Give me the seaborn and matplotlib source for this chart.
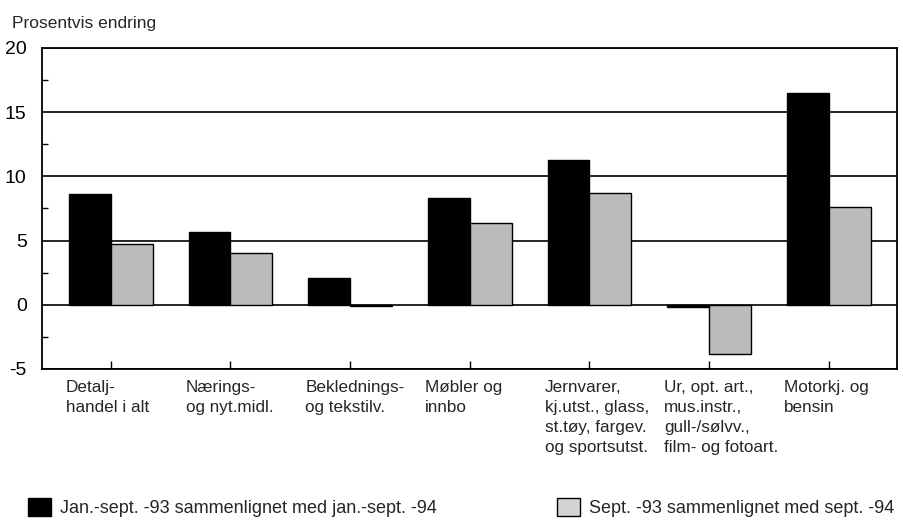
import matplotlib
matplotlib.use("Agg")
import matplotlib.pyplot as plt
import pandas as pd
import seaborn as sns
from matplotlib import font_manager
from matplotlib.patches import Patch
from matplotlib.ticker import MultipleLocator

categories = [
    "Detalj-\nhandel i alt",
    "Nærings-\nog nyt.midl.",
    "Beklednings-\nog tekstilv.",
    "Møbler og\ninnbo",
    "Jernvarer,\nkj.utst., glass,\nst.tøy, fargev.\nog sportsutst.",
    "Ur, opt. art.,\nmus.instr.,\ngull-/sølvv.,\nfilm- og fotoart.",
    "Motorkj. og\nbensin",
]
series_names = [
    "Jan.-sept. -93 sammenlignet med jan.-sept. -94",
    "Sept. -93 sammenlignet med sept. -94",
]
jan_sept = [8.6, 5.7, 2.1, 8.3, 11.3, -0.2, 16.5]
sept = [4.7, 4.0, -0.1, 6.4, 8.7, -3.8, 7.6]

df = pd.DataFrame(
    {
        "kategori": categories * 2,
        "serie": [series_names[0]] * len(categories) + [series_names[1]] * len(categories),
        "endring": jan_sept + sept,
    }
)

installed = {f.name for f in font_manager.fontManager.ttflist}
narrow = "Liberation Sans Narrow" in installed

sns.set_theme(style="white")
plt.rcParams["font.family"] = ["Liberation Sans Narrow" if narrow else "Liberation Sans", "DejaVu Sans"]
plt.rcParams["axes.unicode_minus"] = False

fig = plt.figure(figsize=(9.04, 5.22), dpi=100)
ax = fig.add_axes([42 / 904, 1 - 369 / 522, (897 - 42) / 904, (369 - 48) / 522])

sns.barplot(
    data=df,
    x="kategori",
    y="endring",
    hue="serie",
    palette=["black", "#bcbcbc"],
    width=0.7,
    saturation=1,
    edgecolor="black",
    linewidth=1.0,
    legend=False,
    ax=ax,
)

ax.set_ylim(-5, 20)
ax.set_xlim(-0.575, 6.57)
ax.set_yticks([-5, 0, 5, 10, 15, 20])
ax.yaxis.set_minor_locator(MultipleLocator(2.5))
ax.tick_params(axis="y", which="major", length=0, pad=11, labelsize=14, colors="black")
ax.tick_params(axis="y", which="minor", left=True, direction="in", length=4, width=1, color="black")
ax.tick_params(axis="x", which="major", bottom=True, direction="in", length=6, width=1,
               color="black", labelbottom=False)
ax.set_xlabel("")
ax.set_ylabel("")
ax.grid(axis="y", which="major", color="black", linewidth=1.2)
ax.set_axisbelow(True)
for side in ["left", "right", "bottom", "top"]:
    ax.spines[side].set_visible(True)
    ax.spines[side].set_color("black")
    ax.spines[side].set_linewidth(1.3)

for i, label in enumerate(categories):
    ax.annotate(
        label,
        xy=(i - 0.375, 0),
        xycoords=("data", "axes fraction"),
        xytext=(0, -8),
        textcoords="offset points",
        ha="left",
        va="top",
        fontsize=12.3,
        linespacing=1.4,
    )

fig.text(12 / 904, 1 - 28 / 522, "Prosentvis endring", fontsize=12.5, va="baseline", ha="left")

leg_kw = dict(frameon=False, fontsize=13, handlelength=1.3, handleheight=1.2,
              handletextpad=0.5, borderpad=0, borderaxespad=0, loc="lower left")
fig.legend(handles=[Patch(facecolor="black", edgecolor="black", label=series_names[0])],
           bbox_to_anchor=(28 / 904, 5 / 522), **leg_kw)
fig.legend(handles=[Patch(facecolor="#d4d4d4", edgecolor="black", label=series_names[1])],
           bbox_to_anchor=(557 / 904, 5 / 522), **leg_kw)

fig.savefig("out.png", dpi=100)
